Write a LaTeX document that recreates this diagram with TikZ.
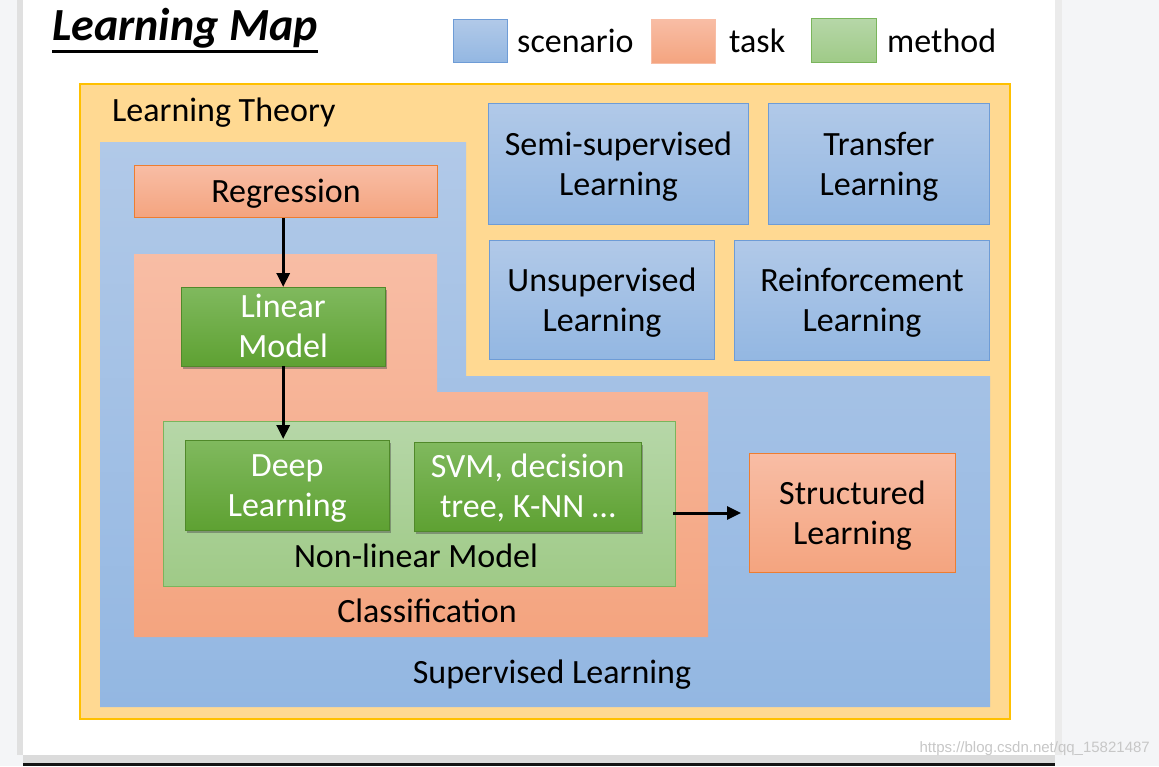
\documentclass[tikz,border=0pt]{standalone}
\usepackage{fontspec}
\setmainfont{Carlito}
\newfontfamily\wmfont{Liberation Sans}
\usetikzlibrary{arrows.meta,shadows}
\definecolor{pagebg}{HTML}{F4F5F7}
\definecolor{ylfill}{HTML}{FFD992}
\definecolor{ylborder}{HTML}{FFC000}
\definecolor{bluetop}{HTML}{B1C9E8}
\definecolor{bluebot}{HTML}{93B7E2}
\definecolor{blueline}{HTML}{6E9CD6}
\definecolor{saltop}{HTML}{F8BDA5}
\definecolor{salbot}{HTML}{F4A47F}
\definecolor{salline}{HTML}{ED7D31}
\definecolor{grtop}{HTML}{80B95E}
\definecolor{grbot}{HTML}{5EA132}
\definecolor{lgtop}{HTML}{B6D7A8}
\definecolor{lgbot}{HTML}{9FCA87}
\definecolor{lgline}{HTML}{7AB55C}
\begin{document}
\begin{tikzpicture}[x=1pt,y=-1pt,
  txt/.style={font=\fontsize{34}{40}\selectfont, align=center, inner sep=0pt},
  oneline/.style={text height=22pt, text depth=0pt},
  twoline/.style={text height=62pt, text depth=0pt},
  scen/.style={txt, twoline, draw=blueline, line width=1pt, top color=bluetop, bottom color=bluebot, anchor=north west},
  taskbox/.style={txt, draw=salline, line width=1pt, top color=saltop, bottom color=salbot, anchor=north west},
  meth/.style={txt, twoline, text=white, draw=grbot!85!black, line width=0.4pt, top color=grtop, bottom color=grbot, anchor=north west,
     drop shadow={shadow xshift=2pt, shadow yshift=-3pt, opacity=0.45, fill=black!70}},
  lbl/.style={txt, anchor=base},
  arr/.style={line width=3pt, -{Triangle[length=14pt,width=13pt]}},
]
\useasboundingbox (0,0) rectangle (1159,766);
% page
\fill[pagebg] (0,0) rectangle (1159,766);
\fill[black!12] (17,0) rectangle (23,755);
\fill[black!8] (1055,0) rectangle (1062,755);
\fill[white] (23,0) rectangle (1055,755);
\fill[black!14] (23,755) rectangle (1055,763);
\fill[black!92] (23,763) rectangle (1055,766);
% title
\node[anchor=base west, inner sep=0pt, font=\fontsize{46}{54}\selectfont\bfseries\itshape] (title) at (52,40) {Learning Map};
\draw[line width=3pt] (52,51.5) -- (318,51.5);
% legend
\node[draw=blueline, line width=1pt, top color=bluetop, bottom color=bluebot, minimum width=54pt, minimum height=43pt, anchor=north west, inner sep=0pt] (legscen) at (453,19) {};
\node[lbl, anchor=base west] (legscentxt) at (517,52) {scenario};
\node[draw=saltop, line width=0.5pt, top color=saltop, bottom color=salbot, minimum width=64pt, minimum height=44pt, anchor=north west, inner sep=0pt] (legtask) at (651,19) {};
\node[lbl, anchor=base west] (legtasktxt) at (729,52) {task};
\node[draw=lgline, line width=1pt, top color=lgtop, bottom color=lgbot, minimum width=65pt, minimum height=44pt, anchor=north west, inner sep=0pt] (legmeth) at (811,18) {};
\node[lbl, anchor=base west] (legmethtxt) at (887,52) {method};
% learning theory
\draw[ylborder, line width=1.2pt, fill=ylfill] (80,84) rectangle (1010,719);
\node[lbl, anchor=base west] (theory) at (112,121) {Learning Theory};
% supervised learning region
\shade[top color=bluetop, bottom color=bluebot] (100,142) -- (466,142) -- (466,376) -- (990,376) -- (990,707) -- (100,707) -- cycle;
\node[lbl] (suplbl) at (552,683) {Supervised Learning};
% classification region
\shade[top color=saltop, bottom color=salbot] (134,254) -- (437,254) -- (437,392) -- (708,392) -- (708,637) -- (134,637) -- cycle;
\node[lbl] (clslbl) at (427,622) {Classification};
% regression
\node[taskbox, oneline, minimum width=303pt, minimum height=52pt] (reg) at (134,165) {Regression};
% linear model
\node[meth, minimum width=204pt, minimum height=79pt] (lin) at (181,287) {Linear\\Model};
% non-linear model
\node[draw=lgline, line width=1pt, top color=lgtop, bottom color=lgbot, minimum width=512pt, minimum height=165pt, anchor=north west, inner sep=0pt] (nonlin) at (163,421) {};
\node[lbl] (nonlinlbl) at (416,567) {Non-linear Model};
\node[meth, minimum width=204pt, minimum height=90pt] (deep) at (185,440) {Deep\\Learning};
\node[meth, minimum width=227pt, minimum height=89pt] (svm) at (414,442) {SVM, decision\\tree, K-NN …};
% structured learning
\node[taskbox, twoline, minimum width=206pt, minimum height=119pt] (struct) at (749,453) {Structured\\Learning};
% scenarios top right
\node[scen, minimum width=260pt, minimum height=121pt] (semi) at (488,103) {Semi-supervised\\Learning};
\node[scen, minimum width=221pt, minimum height=121pt] (transfer) at (768,103) {Transfer\\Learning};
\node[scen, minimum width=225pt, minimum height=119pt] (unsup) at (489,240) {Unsupervised\\Learning};
\node[scen, minimum width=255pt, minimum height=120pt] (reinf) at (734,240) {Reinforcement\\Learning};
% arrows
\draw[arr] (lin.north |- reg.south) -- (lin.north);
\draw[arr] (lin.south) -- ([yshift=1pt]lin.south |- deep.north);
\draw[arr] ([xshift=-3pt]struct.west -| nonlin.east) -- ([xshift=-8pt]struct.west);
% watermark
\node[anchor=base east, inner sep=0pt, font=\wmfont\fontsize{15}{18}\selectfont, text=black!22] (wm) at (1150,752) {https://blog.csdn.net/qq\_15821487};
\end{tikzpicture}
\end{document}
